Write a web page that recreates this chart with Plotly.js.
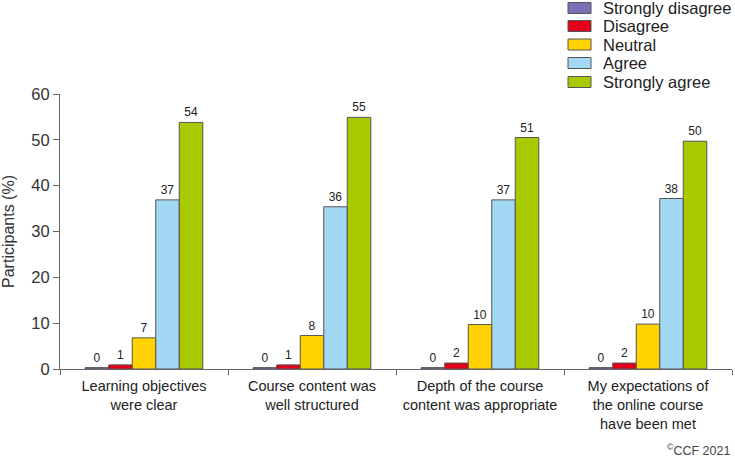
<!DOCTYPE html>
<html>
<head>
<meta charset="utf-8">
<script src="https://cdn.plot.ly/plotly-3.0.1.min.js"></script>
<style>html,body{margin:0;padding:0;background:#fff;}#chart{width:735px;height:457px;}</style>
</head>
<body>
<div id="chart"></div>
<script>
const categories = [
  "Learning objectives<br>were clear",
  "Course content was<br>well structured",
  "Depth of the course<br>content was appropriate",
  "My expectations of<br>the online course<br>have been met"
];
const seriesNames = ["Strongly disagree", "Disagree", "Neutral", "Agree", "Strongly agree"];
const stronglyDisagree = [0.3, 0.3, 0.3, 0.3];
const disagree = [0.9, 0.9, 1.3, 1.3];
const neutral = [6.8, 7.3, 9.7, 9.8];
const agree = [36.9, 35.4, 36.9, 37.2];
const stronglyAgree = [53.8, 54.9, 50.5, 49.7];
const labelsStronglyDisagree = ["0", "0", "0", "0"];
const labelsDisagree = ["1", "1", "2", "2"];
const labelsNeutral = ["7", "8", "10", "10"];
const labelsAgree = ["37", "36", "37", "38"];
const labelsStronglyAgree = ["54", "55", "51", "50"];

const values = [stronglyDisagree, disagree, neutral, agree, stronglyAgree];
const labels = [labelsStronglyDisagree, labelsDisagree, labelsNeutral, labelsAgree, labelsStronglyAgree];
const colors = ["#7b70b3", "#e3001b", "#ffd200", "#a2d8f4", "#a9c900"];

const FONT = "Liberation Sans, Arial, Helvetica, sans-serif";

// plot area geometry (px)
const W = 735, H = 457;
const M = {l: 60, r: 3, t: 94, b: 88};
const PW = W - M.l - M.r, PH = H - M.t - M.b;
const px2x = p => (p - M.l) / PW;
const py2y = p => (H - M.b - p) / PH;

const traces = seriesNames.map((name, i) => ({
  type: "bar",
  name: name,
  x: categories,
  y: values[i],
  text: labels[i],
  textposition: "outside",
  textfont: {family: FONT, size: 12, color: "#222"},
  cliponaxis: false,
  marker: {color: colors[i], line: {color: "#555", width: 1}},
  hoverinfo: "skip",
  showlegend: false
}));

// custom legend (swatches + labels)
const legendRowY = [8, 26, 44.5, 63, 82];
const shapes = [];
const annotations = [];
seriesNames.forEach((name, i) => {
  const cy = legendRowY[i];
  shapes.push({
    type: "rect", xref: "paper", yref: "paper",
    x0: px2x(568), x1: px2x(591),
    y0: py2y(cy + 5.5), y1: py2y(cy - 5.5),
    fillcolor: colors[i], line: {color: "#555", width: 1}
  });
  annotations.push({
    text: name, xref: "paper", yref: "paper",
    x: px2x(601), xanchor: "left",
    y: py2y(cy), yanchor: "middle",
    showarrow: false,
    font: {family: FONT, size: 16.5, color: "#222"}
  });
});
annotations.push({
  text: "<sup>©</sup>CCF 2021",
  xref: "paper", yref: "paper",
  x: 1, xanchor: "right",
  y: py2y(450), yanchor: "middle",
  showarrow: false,
  font: {family: FONT, size: 12.5, color: "#444"}
});

const layout = {
  width: W,
  height: H,
  margin: {l: M.l, r: M.r, t: M.t, b: M.b, autoexpand: false},
  paper_bgcolor: "#fff",
  plot_bgcolor: "#fff",
  font: {family: FONT, color: "#333"},
  barmode: "group",
  bargap: 0.3,
  bargroupgap: 0,
  showlegend: false,
  xaxis: {
    type: "category",
    showline: true,
    linecolor: "#666",
    linewidth: 1,
    ticks: "outside",
    tickson: "boundaries",
    ticklen: 5,
    tickcolor: "#666",
    tickangle: 0,
    ticklabelstandoff: 4,
    tickfont: {family: FONT, size: 14.5, color: "#222"},
    showgrid: false,
    zeroline: false,
    automargin: false,
    fixedrange: true
  },
  yaxis: {
    range: [0, 60],
    tickvals: [0, 10, 20, 30, 40, 50, 60],
    showline: true,
    linecolor: "#666",
    linewidth: 1,
    ticks: "outside",
    ticklen: 6,
    tickcolor: "#666",
    tickfont: {family: FONT, size: 16.5, color: "#333"},
    showgrid: false,
    zeroline: false,
    automargin: false,
    title: {text: "Participants (%)", font: {family: FONT, size: 16, color: "#333"}, standoff: 16},
    fixedrange: true
  },
  shapes: shapes,
  annotations: annotations
};

Plotly.newPlot("chart", traces, layout, {displayModeBar: false, staticPlot: true});
</script>
</body>
</html>
